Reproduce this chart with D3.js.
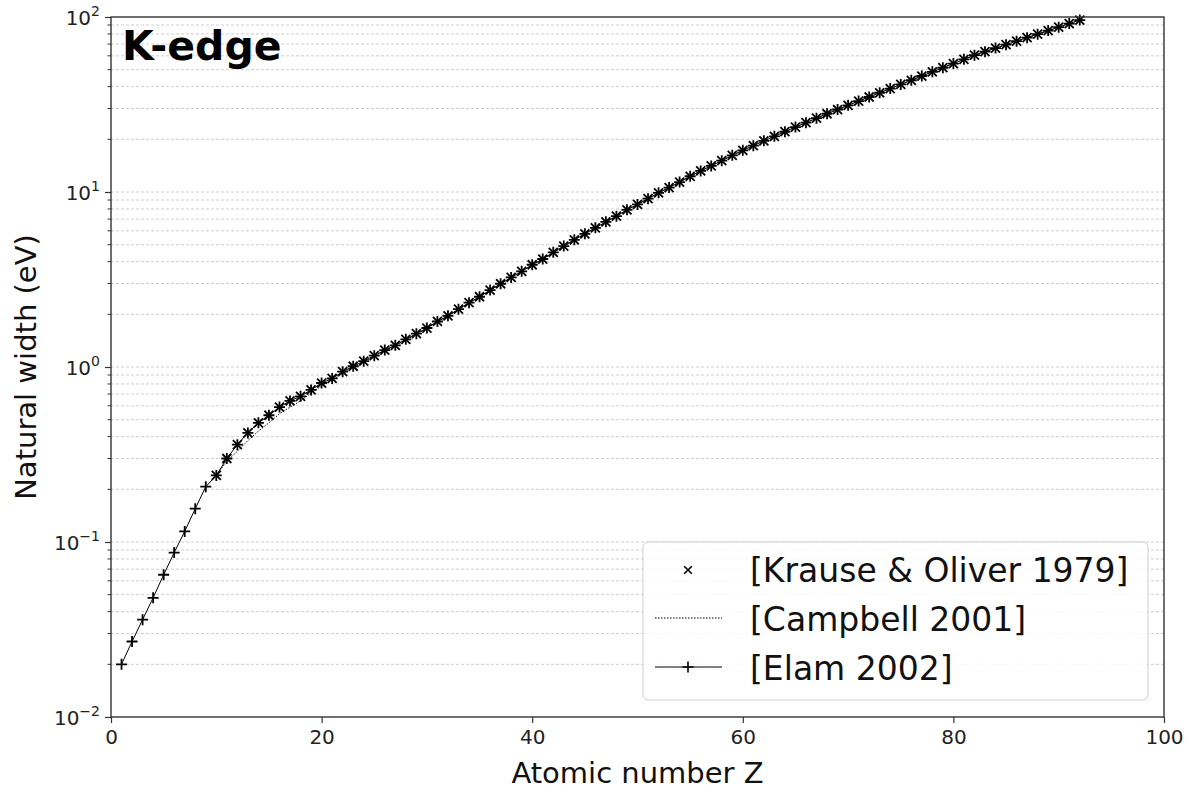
<!DOCTYPE html>
<html>
<head>
<meta charset="utf-8">
<script src="https://cdn.jsdelivr.net/npm/d3@7"></script>
<style>
  html, body { margin: 0; padding: 0; background: #fff; }
  svg { display: block; font-family: "DejaVu Sans", sans-serif; }
</style>
</head>
<body>
<svg id="chart" width="1196" height="793"></svg>
<script>
// ---- data (natural K-level widths, eV) ----
const koStartZ = 10;
const koValues = [0.24, 0.30, 0.36, 0.42, 0.48, 0.53, 0.59, 0.64, 0.68, 0.74,
  0.81, 0.86, 0.94, 1.01, 1.08, 1.16, 1.25, 1.33, 1.44, 1.55,
  1.67, 1.82, 1.96, 2.14, 2.33, 2.52, 2.75, 2.99, 3.25, 3.52,
  3.84, 4.14, 4.52, 4.91, 5.33, 5.77, 6.24, 6.75, 7.28, 7.91,
  8.49, 9.16, 9.89, 10.6, 11.4, 12.3, 13.2, 14.1, 15.1, 16.2,
  17.3, 18.4, 19.6, 20.8, 22.1, 23.5, 24.9, 26.4, 28.0, 29.6,
  31.3, 33.1, 34.9, 36.9, 39.0, 41.2, 43.5, 46.0, 48.6, 51.3,
  54.2, 57.3, 60.5, 63.4, 66.4, 69.5, 72.8, 76.2, 79.8, 83.6,
  87.5, 91.7, 96.0];

const campbellStartZ = 10;
const campbellValues = [0.24, 0.29, 0.33, 0.38, 0.43, 0.48, 0.54, 0.59, 0.64, 0.71,
  0.78, 0.84, 0.92, 1.00, 1.07, 1.15, 1.24, 1.32, 1.43, 1.54,
  1.66, 1.81, 1.95, 2.13, 2.32, 2.51, 2.74, 2.98, 3.24, 3.51,
  3.83, 4.13, 4.51, 4.90, 5.32, 5.76, 6.23, 6.74, 7.27, 7.90,
  8.48, 9.15, 9.88, 10.6, 11.4, 12.3, 13.2, 14.1, 15.1, 16.2,
  17.3, 18.4, 19.6, 20.8, 22.1, 23.5, 24.9, 26.4, 28.0, 29.6,
  31.3, 33.1, 34.9, 36.9, 39.0, 41.2, 43.5, 46.0, 48.6, 51.3,
  54.2, 57.3, 60.5, 63.4, 66.4, 69.5, 72.8, 76.2, 79.8, 83.6,
  87.5, 91.7, 96.0];

const elamStartZ = 1;
const elamValues = [0.020, 0.027, 0.036, 0.048, 0.065, 0.087, 0.115, 0.155, 0.207,
  0.24, 0.30, 0.36, 0.42, 0.48, 0.53, 0.59, 0.64, 0.68, 0.74,
  0.81, 0.86, 0.94, 1.01, 1.08, 1.16, 1.25, 1.33, 1.44, 1.55,
  1.67, 1.82, 1.96, 2.14, 2.33, 2.52, 2.75, 2.99, 3.25, 3.52,
  3.84, 4.14, 4.52, 4.91, 5.33, 5.77, 6.24, 6.75, 7.28, 7.91,
  8.49, 9.16, 9.89, 10.6, 11.4, 12.3, 13.2, 14.1, 15.1, 16.2,
  17.3, 18.4, 19.6, 20.8, 22.1, 23.5, 24.9, 26.4, 28.0, 29.6,
  31.3, 33.1, 34.9, 36.9, 39.0, 41.2, 43.5, 46.0, 48.6, 51.3,
  54.2, 57.3, 60.5, 63.4, 66.4, 69.5, 72.8, 76.2, 79.8, 83.6,
  87.5, 91.7, 96.0];

const xTicks = [0, 20, 40, 60, 80, 100];
const yExponents = [-2, -1, 0, 1, 2];
const legendLabels = ["[Krause & Oliver 1979]", "[Campbell 2001]", "[Elam 2002]"];
const titleText = "K-edge";
const xLabel = "Atomic number Z";
const yLabel = "Natural width (eV)";

// ---- layout ----
const margin = {left: 111, right: 32, top: 17, bottom: 76};
const W = 1196, H = 793;
const svg = d3.select("#chart");
const x = d3.scaleLinear().domain([0, 100]).range([margin.left, W - margin.right]);
const y = d3.scaleLog().domain([1e-2, 1e2]).range([H - margin.bottom, margin.top]);

const toPts = (start, vals) => vals.map((v, i) => ({z: start + i, v}));
const ko = toPts(koStartZ, koValues);
const camp = toPts(campbellStartZ, campbellValues);
const elam = toPts(elamStartZ, elamValues);

// grid (major + minor y)
const gridVals = [];
for (let e = -2; e < 2; e++) for (let m = 1; m <= 9; m++) gridVals.push(m * Math.pow(10, e));
svg.append("g").selectAll("line").data(gridVals.filter(v => v > 1e-2)).join("line")
  .attr("x1", x(0)).attr("x2", x(100))
  .attr("y1", d => y(d)).attr("y2", d => y(d))
  .attr("stroke", "#cfcfcf").attr("stroke-width", 1)
  .attr("stroke-dasharray", "3,2");

const line = d3.line().x(d => x(d.z)).y(d => y(d.v));
const plot = svg.append("g");

// Campbell dotted line
plot.append("path").datum(camp).attr("d", line)
  .attr("fill", "none").attr("stroke", "#000").attr("stroke-width", 1)
  .attr("stroke-dasharray", "1.5,1.5");

// Elam line + plus markers
plot.append("path").datum(elam).attr("d", line)
  .attr("fill", "none").attr("stroke", "#000").attr("stroke-width", 1);
const ps = 5.5;
plot.append("g").selectAll("path").data(elam).join("path")
  .attr("d", d => `M${x(d.z) - ps},${y(d.v)}H${x(d.z) + ps}M${x(d.z)},${y(d.v) - ps}V${y(d.v) + ps}`)
  .attr("stroke", "#000").attr("stroke-width", 1.8).attr("fill", "none");

// Krause & Oliver x markers
const xs = 4.5;
plot.append("g").selectAll("path").data(ko).join("path")
  .attr("d", d => `M${x(d.z) - xs},${y(d.v) - xs}L${x(d.z) + xs},${y(d.v) + xs}M${x(d.z) - xs},${y(d.v) + xs}L${x(d.z) + xs},${y(d.v) - xs}`)
  .attr("stroke", "#000").attr("stroke-width", 1.8).attr("fill", "none");

// axes
const axisColor = "#333";
const xAxis = svg.append("g").attr("transform", `translate(0,${y(1e-2)})`)
  .call(d3.axisBottom(x).tickValues(xTicks).tickSize(6).tickPadding(7).tickFormat(d3.format("d")));
xAxis.selectAll("text").attr("font-size", 20).attr("fill", "#222").attr("font-family", "DejaVu Sans");

const yAxis = svg.append("g").attr("transform", `translate(${x(0)},0)`)
  .call(d3.axisLeft(y).tickValues(yExponents.map(e => Math.pow(10, e))).tickSize(6).tickPadding(6).tickFormat(""));
// minor ticks
svg.append("g").selectAll("line").data(gridVals.filter(v => v > 1e-2 && !Number.isInteger(Math.log10(v)))).join("line")
  .attr("x1", x(0) - 3.5).attr("x2", x(0)).attr("y1", d => y(d)).attr("y2", d => y(d))
  .attr("stroke", axisColor).attr("stroke-width", 1);
// y tick labels with superscripts
const yl = svg.append("g");
yExponents.forEach(e => {
  const t = yl.append("text").attr("x", x(0) - 11).attr("y", y(Math.pow(10, e)) + 8)
    .attr("text-anchor", "end").attr("font-size", 20).attr("fill", "#222");
  t.append("tspan").text("10");
  t.append("tspan").attr("dy", -9).attr("font-size", 14).text(String(e).replace("-", "\u2212"));
});
[xAxis, yAxis].forEach(a => {
  a.select(".domain").remove();
  a.selectAll("line").attr("stroke", axisColor).attr("stroke-width", 1.2);
});

// frame
svg.append("rect").attr("x", x(0)).attr("y", y(1e2)).attr("width", x(100) - x(0)).attr("height", y(1e-2) - y(1e2))
  .attr("fill", "none").attr("stroke", axisColor).attr("stroke-width", 1.4);

// labels
svg.append("text").attr("x", (x(0) + x(100)) / 2).attr("y", 783).attr("text-anchor", "middle")
  .attr("font-size", 29).attr("fill", "#111").text(xLabel);
svg.append("text").attr("transform", `translate(36,${(y(1e2) + y(1e-2)) / 2}) rotate(-90)`)
  .attr("text-anchor", "middle").attr("font-size", 29).attr("fill", "#111").text(yLabel);
svg.append("text").attr("x", 122).attr("y", 60).attr("font-size", 41).attr("font-weight", "bold")
  .attr("fill", "#000").text(titleText);

// legend
const lg = svg.append("g");
lg.append("rect").attr("x", 643).attr("y", 542).attr("width", 505).attr("height", 158).attr("rx", 5)
  .attr("fill", "#fff").attr("fill-opacity", 0.85).attr("stroke", "#cfcfcf").attr("stroke-width", 1);
const rowY = [570, 618, 667];
const hx0 = 655, hx1 = 722, hxc = 688;
const lxs = 3.8;
// KO marker
lg.append("path").attr("d", `M${hxc - lxs},${rowY[0] - lxs}L${hxc + lxs},${rowY[0] + lxs}M${hxc - lxs},${rowY[0] + lxs}L${hxc + lxs},${rowY[0] - lxs}`)
  .attr("stroke", "#000").attr("stroke-width", 1.6);
// Campbell dotted
lg.append("line").attr("x1", hx0).attr("x2", hx1).attr("y1", rowY[1]).attr("y2", rowY[1])
  .attr("stroke", "#000").attr("stroke-width", 1).attr("stroke-dasharray", "1.5,1.5");
// Elam
lg.append("line").attr("x1", hx0).attr("x2", hx1).attr("y1", rowY[2]).attr("y2", rowY[2])
  .attr("stroke", "#000").attr("stroke-width", 1);
lg.append("path").attr("d", `M${hxc - ps},${rowY[2]}H${hxc + ps}M${hxc},${rowY[2] - ps}V${rowY[2] + ps}`)
  .attr("stroke", "#000").attr("stroke-width", 1.6);
const textBase = [582, 631, 680];
lg.selectAll("text.lab").data(legendLabels).join("text").attr("class", "lab")
  .attr("x", 750).attr("y", (d, i) => textBase[i]).attr("font-size", 33).attr("fill", "#111").text(d => d);
</script>
</body>
</html>
